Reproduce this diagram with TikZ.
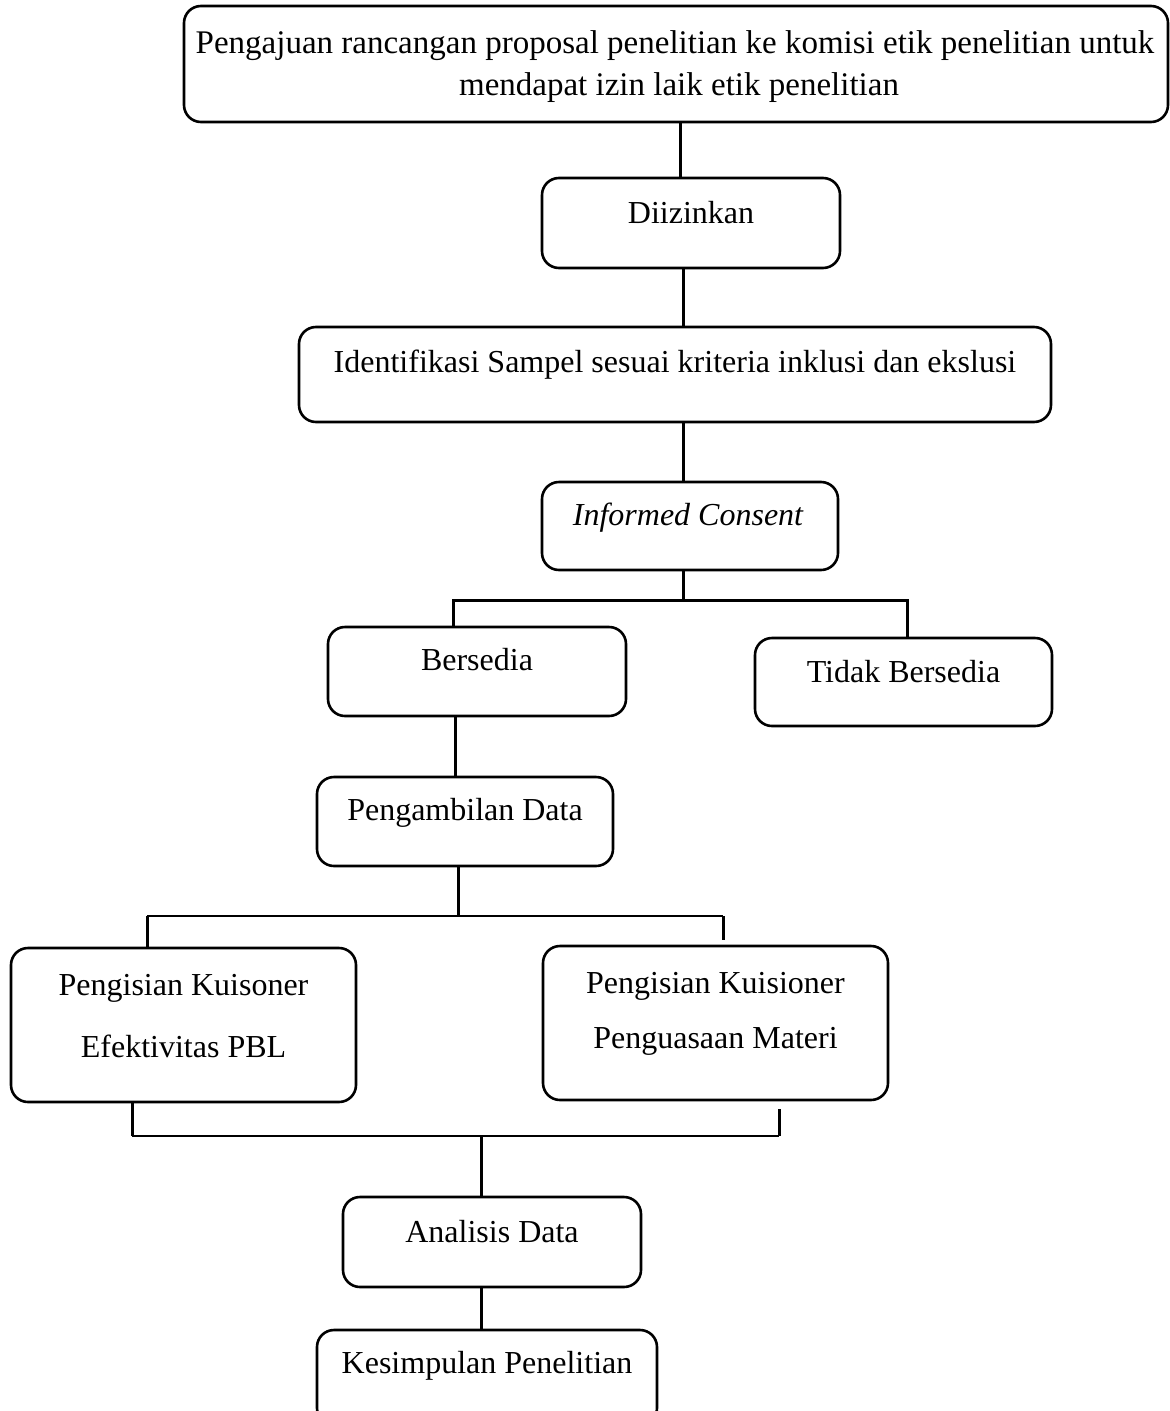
\documentclass[tikz,border=0pt]{standalone}
\usepackage{fontspec}
\setmainfont{Liberation Serif}
\begin{document}
\begin{tikzpicture}[x=1pt,y=-1pt,
  box/.style={draw=black, line width=2.6pt, rounded corners=17pt, inner sep=0pt},
  lbl/.style={font=\fontsize{32}{42}\selectfont, inner sep=0pt, anchor=base, text=black},
  conn/.style={draw=black, line width=3pt},
  thin/.style={draw=black, line width=2pt}]
\useasboundingbox (0,0) rectangle (1170,1411);
% boxes
\node[box, minimum width=984pt, minimum height=116pt] (top) at (676,64) {};
\node[box, minimum width=298pt, minimum height=90pt] (diiz) at (691,223) {};
\node[box, minimum width=752pt, minimum height=95pt] (iden) at (675,374.5) {};
\node[box, minimum width=296pt, minimum height=88pt] (inf) at (690,526) {};
\node[box, minimum width=298pt, minimum height=89pt] (bers) at (477,671.5) {};
\node[box, minimum width=297pt, minimum height=88pt] (tidak) at (903.5,682) {};
\node[box, minimum width=296pt, minimum height=89pt] (ambil) at (465,821.5) {};
\node[box, minimum width=345pt, minimum height=154pt] (kl) at (183.5,1025) {};
\node[box, minimum width=345pt, minimum height=154pt] (kr) at (715.5,1023) {};
\node[box, minimum width=298pt, minimum height=90pt] (anal) at (492,1242) {};
\node[box, minimum width=340pt, minimum height=95pt] (kes) at (487,1377.5) {};
% labels
\node[lbl, font=\fontsize{33}{42}\selectfont] (t1a) at (675,53) {Pengajuan rancangan proposal penelitian ke komisi etik penelitian untuk};
\node[lbl, font=\fontsize{33}{42}\selectfont] (t1b) at (679,95) {mendapat izin laik etik penelitian};
\node[lbl] (t2) at (691,223) {Diizinkan};
\node[lbl] (t3) at (675,372) {Identifikasi Sampel sesuai kriteria inklusi dan ekslusi};
\node[lbl] (t4) at (688,525) {\itshape Informed Consent};
\node[lbl] (t5) at (477,670) {Bersedia};
\node[lbl] (t6) at (903.5,682) {Tidak Bersedia};
\node[lbl] (t7) at (465,820) {Pengambilan Data};
\node[lbl] (t8a) at (183.5,995) {Pengisian Kuisoner};
\node[lbl] (t8b) at (183.5,1057) {Efektivitas PBL};
\node[lbl] (t9a) at (715.5,993) {Pengisian Kuisioner};
\node[lbl] (t9b) at (715.5,1048) {Penguasaan Materi};
\node[lbl] (t10) at (492,1242) {Analisis Data};
\node[lbl] (t11) at (487,1373) {Kesimpulan Penelitian};
% junction coordinates
\coordinate (x1) at (680,0);
\coordinate (x2) at (683,0);
\coordinate (b1) at (683,600);
\coordinate (b1l) at (453,600);
\coordinate (b1r) at (907,600);
\coordinate (x3) at (455,0);
\coordinate (b2) at (458,916);
\coordinate (b2l) at (147,916);
\coordinate (b2r) at (723,916);
\coordinate (b3) at (481,1136);
\coordinate (b3l) at (132,1136);
\coordinate (b3r) at (779,1136);
% connectors
\draw[conn] (top.south -| x1) -- (diiz.north -| x1);
\draw[conn] (diiz.south -| x2) -- (iden.north -| x2);
\draw[conn] (iden.south -| x2) -- (inf.north -| x2);
\draw[conn] (inf.south -| b1) -- (b1);
\draw[conn] (bers.north -| b1l) -- (b1l) -- (b1r) -- (tidak.north -| b1r);
\draw[conn] (bers.south -| x3) -- (ambil.north -| x3);
\draw[conn] (ambil.south -| b2) -- (b2);
\draw[thin] (b2l) -- (b2r);
\draw[conn] (b2l) -- (kl.north -| b2l);
\draw[conn] (b2r) -- ([yshift=5pt]kr.north -| b2r);
\draw[conn] (kl.south -| b3l) -- (b3l);
\draw[conn] ([yshift=-8pt]kr.south -| b3r) -- (b3r);
\draw[thin] (b3l) -- (b3r);
\draw[conn] (b3) -- (anal.north -| b3);
\draw[conn] (anal.south -| b3) -- (kes.north -| b3);
\end{tikzpicture}
\end{document}
